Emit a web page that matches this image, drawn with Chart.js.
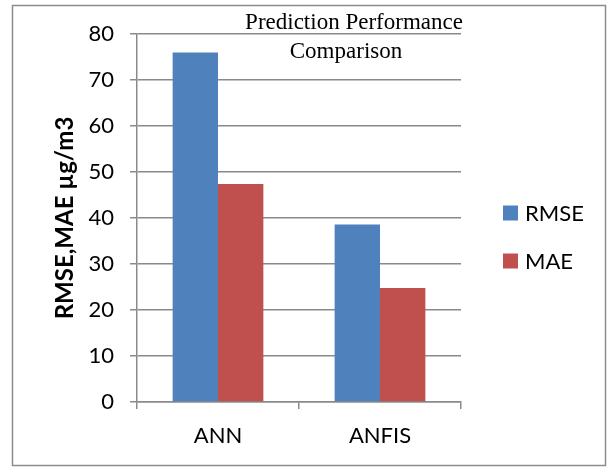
<!DOCTYPE html>
<html>
<head>
<meta charset="utf-8">
<script src="https://cdn.jsdelivr.net/npm/chart.js@4/dist/chart.umd.min.js"></script>
<style>
  html, body { margin: 0; padding: 0; background: #ffffff; }
  #wrap { width: 613px; height: 469px; }
</style>
</head>
<body>
<div id="wrap"><canvas id="chart" width="613" height="469"></canvas></div>
<script>
// Chart data
const categories = ['ANN', 'ANFIS'];
const rmseValues = [76, 38.6];
const maeValues = [47.4, 24.8];
const seriesNames = ['RMSE', 'MAE'];
const titleLines = ['Prediction Performance', 'Comparison'];
const yAxisTitle = 'RMSE,MAE µg/m3';
const yMin = 0, yMax = 80, yStep = 10;

const seriesColors = ['#4F81BD', '#C0504D'];
const gridColor = '#8a8a8a';
const sansFont = 'Lato, "Open Sans", sans-serif';

// White page, outer frame, two-line title and the side legend
const decorations = {
  id: 'decorations',
  beforeDraw(chart) {
    const ctx = chart.ctx;
    ctx.save();
    ctx.fillStyle = '#ffffff';
    ctx.fillRect(0, 0, chart.width, chart.height);
    ctx.restore();
  },
  afterDraw(chart) {
    const ctx = chart.ctx;
    ctx.save();
    // frame
    ctx.strokeStyle = '#8c8c8c';
    ctx.lineWidth = 1.5;
    ctx.strokeRect(12.5, 5.5, 593, 460);

    // title
    ctx.fillStyle = '#000000';
    ctx.font = '23px "Liberation Serif", "Times New Roman", serif';
    ctx.textAlign = 'center';
    ctx.textBaseline = 'alphabetic';
    ctx.fillText(titleLines[0], 354, 29);
    ctx.fillText(titleLines[1], 346, 58);

    // legend
    ctx.font = '22px ' + sansFont;
    ctx.textAlign = 'left';
    ctx.textBaseline = 'middle';
    const rows = [213, 261];
    chart.data.datasets.forEach((ds, i) => {
      const cy = rows[i];
      ctx.fillStyle = ds.backgroundColor;
      ctx.fillRect(503, cy - 7.5, 15, 15);
      ctx.fillStyle = '#000000';
      ctx.fillText(ds.label, 525, cy + 1);
    });
    ctx.restore();
  }
};

new Chart(document.getElementById('chart'), {
  type: 'bar',
  data: {
    labels: categories,
    datasets: [
      { label: seriesNames[0], data: rmseValues, backgroundColor: seriesColors[0] },
      { label: seriesNames[1], data: maeValues, backgroundColor: seriesColors[1] }
    ]
  },
  options: {
    responsive: false,
    animation: false,
    layout: { padding: { left: 13, right: 152, top: 34, bottom: 0 } },
    datasets: {
      bar: { categoryPercentage: 0.56, barPercentage: 1.0, borderWidth: 0 }
    },
    plugins: {
      legend: { display: false },
      title: { display: false },
      tooltip: { enabled: false }
    },
    scales: {
      x: {
        grid: {
          display: true,
          drawOnChartArea: false,
          drawTicks: true,
          tickLength: 7,
          color: gridColor,
          lineWidth: 1.5,
          offset: true
        },
        border: { display: true, color: gridColor, width: 1.5 },
        ticks: {
          color: '#000000',
          font: { family: sansFont, size: 22 },
          padding: 14
        },
        afterFit(scale) { scale.height = 67; }
      },
      y: {
        min: yMin,
        max: yMax,
        grid: {
          color: gridColor,
          lineWidth: 1.5,
          drawTicks: true,
          tickLength: 7
        },
        border: { display: true, color: gridColor, width: 1.5 },
        ticks: {
          stepSize: yStep,
          color: '#000000',
          font: { family: sansFont, size: 22 },
          padding: 16
        },
        title: {
          display: true,
          text: yAxisTitle,
          color: '#000000',
          font: { family: sansFont, size: 24, weight: 'bold' },
          padding: { top: 38, bottom: 0 }
        },
        afterFit(scale) { scale.width = 124; }
      }
    }
  },
  plugins: [decorations]
});
</script>
</body>
</html>
